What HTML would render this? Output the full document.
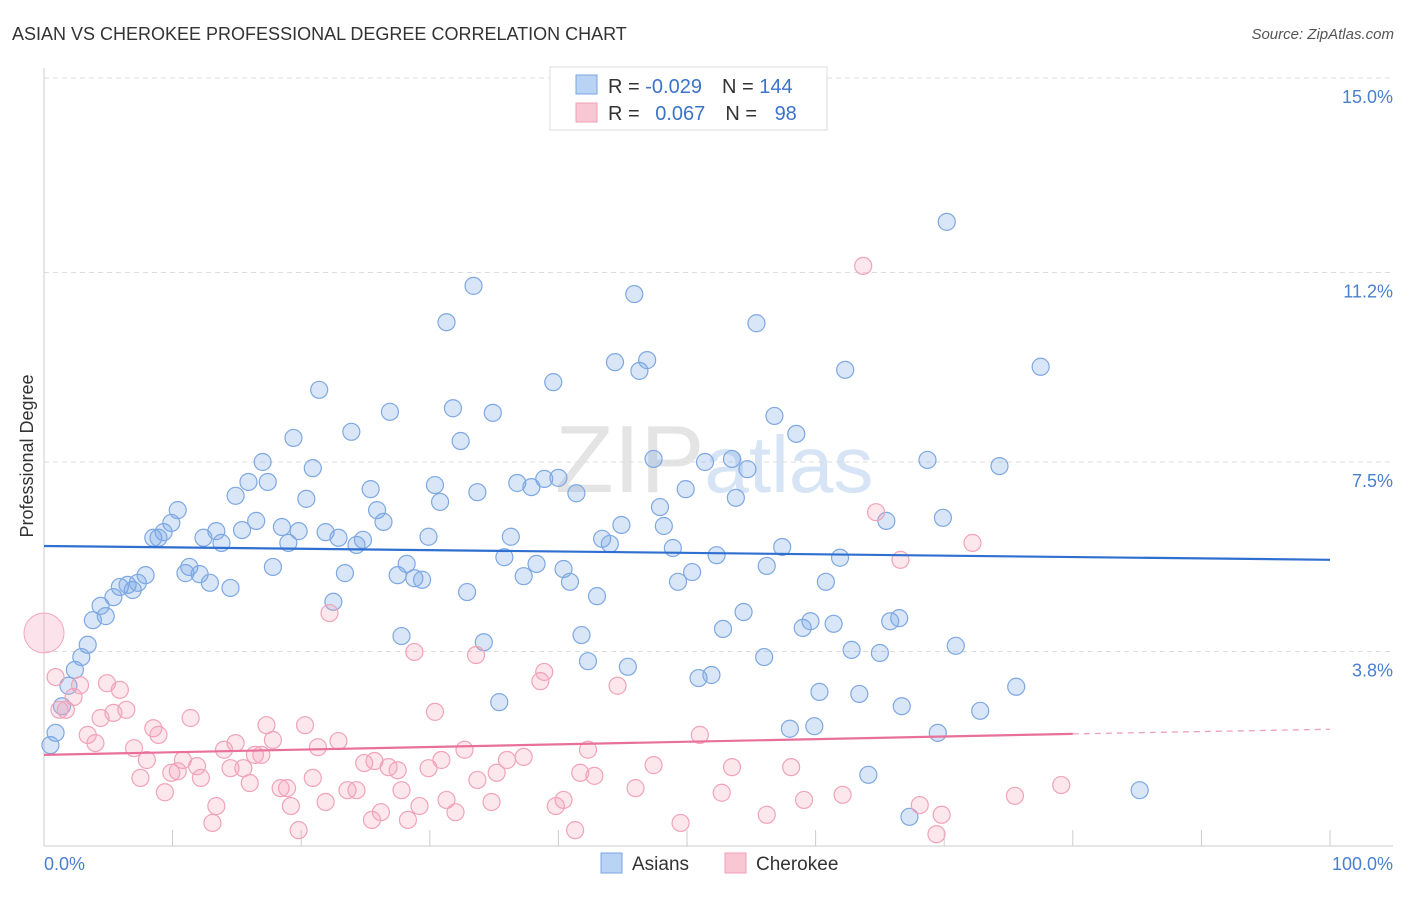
<!DOCTYPE html>
<html><head><meta charset="utf-8"><style>
body{margin:0;background:#fff;font-family:"Liberation Sans",sans-serif;}
svg text{font-family:"Liberation Sans",sans-serif;}
</style></head><body>
<svg id="chart" width="1406" height="892" xmlns="http://www.w3.org/2000/svg">
<text x="12" y="40" font-size="18" fill="#333">ASIAN VS CHEROKEE PROFESSIONAL DEGREE CORRELATION CHART</text>
<text x="1394" y="39" font-size="15" fill="#555" text-anchor="end" font-style="italic">Source: ZipAtlas.com</text>
<text x="555" y="492" font-size="96" fill="#e4e4e4" font-family="Liberation Serif">ZIP<tspan fill="#d6e4f5" font-family="Liberation Sans" font-size="80">atlas</tspan></text>
<text transform="translate(33,456) rotate(-90)" font-size="18" fill="#333" text-anchor="middle">Professional Degree</text>
<g id="grid"></g><g id="pts"></g><g id="lines"></g>
<g>
<rect x="550" y="67" width="277" height="63" fill="#fff" stroke="#ddd"/>
<rect x="576" y="75" width="21" height="19" fill="#b9d3f5" stroke="#7aa6e0"/>
<rect x="576" y="103" width="21" height="19" fill="#f9c6d4" stroke="#eea0b6"/>
<text x="608" y="93" font-size="20" fill="#333">R = <tspan fill="#3b73c8">-0.029</tspan><tspan dx="20">N = </tspan><tspan fill="#3b73c8">144</tspan></text>
<text x="608" y="120" font-size="20" fill="#333">R = <tspan fill="#3b73c8" dx="10">0.067</tspan><tspan dx="20">N = </tspan><tspan fill="#3b73c8" dx="12">98</tspan></text>
</g>
<g>
<rect x="601" y="853" width="21" height="20" fill="#b9d3f5" stroke="#7aa6e0"/>
<text x="632" y="870" font-size="19" fill="#333">Asians</text>
<rect x="725" y="853" width="21" height="20" fill="#f9c6d4" stroke="#eea0b6"/>
<text x="756" y="870" font-size="19" fill="#333">Cherokee</text>
</g>
<text x="44" y="870" font-size="18" fill="#4a7fd0">0.0%</text>
<text x="1393" y="870" font-size="18" fill="#4a7fd0" text-anchor="end">100.0%</text>
</svg>
<script>
const yTicks=[15.0,11.2,7.5,3.8];
const yTickLabels=["15.0%","11.2%","7.5%","3.8%"];
const xTicks=[10,20,30,40,50,60,70,80,90,100];
const asianX=[0.5,0.9,1.4,1.9,2.4,2.9,3.4,3.8,4.4,4.8,5.4,5.9,6.5,6.9,7.3,7.9,8.5,8.9,9.3,9.9,10.4,11.0,11.3,12.1,12.4,12.9,13.4,13.8,14.5,14.9,15.4,15.9,16.5,17.0,17.4,17.8,18.5,19.0,19.4,19.8,20.4,20.9,21.4,21.9,22.5,22.9,23.4,23.9,24.3,24.8,25.4,25.9,26.4,26.9,27.5,27.8,28.2,28.8,29.4,29.9,30.4,30.8,31.3,31.8,32.4,32.9,33.4,33.7,34.2,34.9,35.4,35.8,36.3,36.8,37.3,37.9,38.3,38.9,39.6,40.0,40.4,40.9,41.4,41.8,42.3,43.0,43.4,44.0,44.4,44.9,45.4,45.9,46.3,46.9,47.4,47.9,48.2,48.9,49.3,49.9,50.4,50.9,51.4,51.9,52.3,52.8,53.5,53.8,54.4,54.7,55.4,56.0,56.2,56.8,57.4,58.0,58.5,59.0,59.6,59.9,60.3,60.8,61.4,61.9,62.3,62.8,63.4,64.1,65.0,65.5,65.8,66.5,66.7,67.3,68.7,69.5,69.9,70.2,70.9,72.8,74.3,75.6,77.5,85.2];
const asianY=[1.97,2.21,2.73,3.13,3.44,3.69,3.93,4.41,4.69,4.49,4.86,5.06,5.10,5.00,5.14,5.29,6.02,6.02,6.13,6.31,6.56,5.33,5.45,5.31,6.02,5.14,6.15,5.92,5.04,6.84,6.17,7.11,6.35,7.50,7.11,5.45,6.23,5.92,7.97,6.15,6.78,7.38,8.91,6.13,4.77,6.02,5.33,8.09,5.88,5.98,6.97,6.56,6.33,8.48,5.29,4.10,5.51,5.23,5.20,6.04,7.05,6.72,10.23,8.55,7.91,4.96,10.94,6.91,3.98,8.46,2.81,5.64,6.04,7.09,5.27,7.01,5.51,7.17,9.06,7.19,5.41,5.16,6.89,4.12,3.61,4.88,6.00,5.90,9.45,6.27,3.50,10.78,9.28,9.49,7.56,6.62,6.25,5.82,5.16,6.97,5.35,3.28,7.50,3.34,5.68,4.24,7.56,6.80,4.57,7.36,10.21,3.69,5.47,8.40,5.84,2.29,8.05,4.26,4.39,2.34,3.01,5.16,4.34,5.63,9.30,3.83,2.97,1.39,3.77,6.35,4.39,4.45,2.73,0.57,7.54,2.21,6.41,12.19,3.91,2.64,7.42,3.11,9.36,1.09];
const cherX=[0.9,1.2,1.7,2.3,2.8,3.4,4.0,4.4,4.9,5.4,5.9,6.4,7.0,7.5,8.0,8.5,8.9,9.4,9.9,10.4,10.8,11.4,11.9,12.2,13.1,13.4,14.0,14.5,14.9,15.5,16.0,16.4,16.9,17.3,17.8,18.4,18.9,19.2,19.8,20.3,20.9,21.3,21.9,22.2,22.9,23.6,24.3,24.9,25.5,25.7,26.2,26.8,27.5,27.8,28.3,28.8,29.2,29.9,30.4,30.9,31.3,32.0,32.7,33.6,33.7,34.8,35.2,36.0,37.3,38.6,38.9,39.8,40.4,41.3,41.7,42.3,42.8,44.6,46.0,47.4,49.5,51.0,52.7,53.5,56.2,58.1,59.1,62.1,63.7,64.7,66.6,68.1,69.4,69.8,72.2,75.5,79.1];
const cherY=[3.30,2.66,2.66,2.91,3.14,2.17,2.01,2.50,3.18,2.60,3.05,2.66,1.91,1.33,1.68,2.30,2.17,1.05,1.43,1.46,1.68,2.50,1.56,1.33,0.45,0.78,1.88,1.52,2.01,1.52,1.23,1.78,1.78,2.36,2.07,1.13,1.13,0.78,0.31,2.36,1.33,1.93,0.86,4.55,2.05,1.09,1.09,1.62,0.51,1.66,0.66,1.54,1.48,1.09,0.51,3.79,0.78,1.52,2.62,1.68,0.90,0.66,1.88,3.73,1.29,0.86,1.43,1.68,1.74,3.22,3.40,0.78,0.90,0.31,1.43,1.88,1.37,3.13,1.13,1.58,0.45,2.17,1.04,1.54,0.61,1.54,0.90,1.00,11.33,6.52,5.59,0.80,0.23,0.61,5.92,0.98,1.19];
const asianTrend=[5.86,5.59];
const cherTrend=[1.78,2.19,2.28];
const NS="http://www.w3.org/2000/svg";
const X=v=>44+v*12.86, Y=v=>846-v*51.2;
function mk(tag,attrs,parent){const e=document.createElementNS(NS,tag);for(const k in attrs)e.setAttribute(k,attrs[k]);parent.appendChild(e);return e;}
const grid=document.getElementById('grid'),pts=document.getElementById('pts'),lines=document.getElementById('lines');
yTicks.forEach((t,i)=>{
 const l=mk('line',{x1:44,x2:1393,y1:Y(t),y2:Y(t),stroke:'#ddd','stroke-dasharray':'5,4'},grid);
 
 
 const tx=mk('text',{x:1393,y:Y(t)+25,'font-size':18,fill:'#4a7fd0','text-anchor':'end'},grid);
 tx.textContent=yTickLabels[i];
 
 
});
const ax=mk('line',{x1:44,x2:44,y1:68,y2:846,stroke:'#ccc'},grid);


const bx=mk('line',{x1:44,x2:1393,y1:846,y2:846,stroke:'#ccc'},grid);


xTicks.forEach(t=>{
 const l=mk('line',{x1:X(t),x2:X(t),y1:830,y2:846,stroke:'#ccc'},grid);
 
 
});
asianX.forEach((x,i)=>{
 const c=mk('circle',{cx:X(x),cy:Y(asianY[i]),r:8.5,fill:'rgba(120,165,230,0.28)',stroke:'#7ea8e2','stroke-width':1.2},pts);
 
 
});
const big=mk('circle',{cx:X(0),cy:Y(4.16),r:20,fill:'rgba(245,160,185,0.3)',stroke:'#f2a8bd'},pts);


cherX.forEach((x,i)=>{
 const c=mk('circle',{cx:X(x),cy:Y(cherY[i]),r:8.5,fill:'rgba(245,160,185,0.25)',stroke:'#f0a3b9','stroke-width':1.2},pts);
 
 
});
const bl=mk('line',{x1:X(0),y1:Y(asianTrend[0]),x2:X(100),y2:Y(asianTrend[1]),stroke:'#2f6fd0','stroke-width':2.2},lines);


const pl=mk('line',{x1:X(0),y1:Y(cherTrend[0]),x2:X(80),y2:Y(cherTrend[1]),stroke:'#e8709a','stroke-width':2.2},lines);


const pd=mk('line',{x1:X(80),y1:Y(cherTrend[1]),x2:X(100),y2:Y(cherTrend[2]),stroke:'#eea0b8','stroke-width':1.3,'stroke-dasharray':'6,5'},lines);


</script>
</body></html>
